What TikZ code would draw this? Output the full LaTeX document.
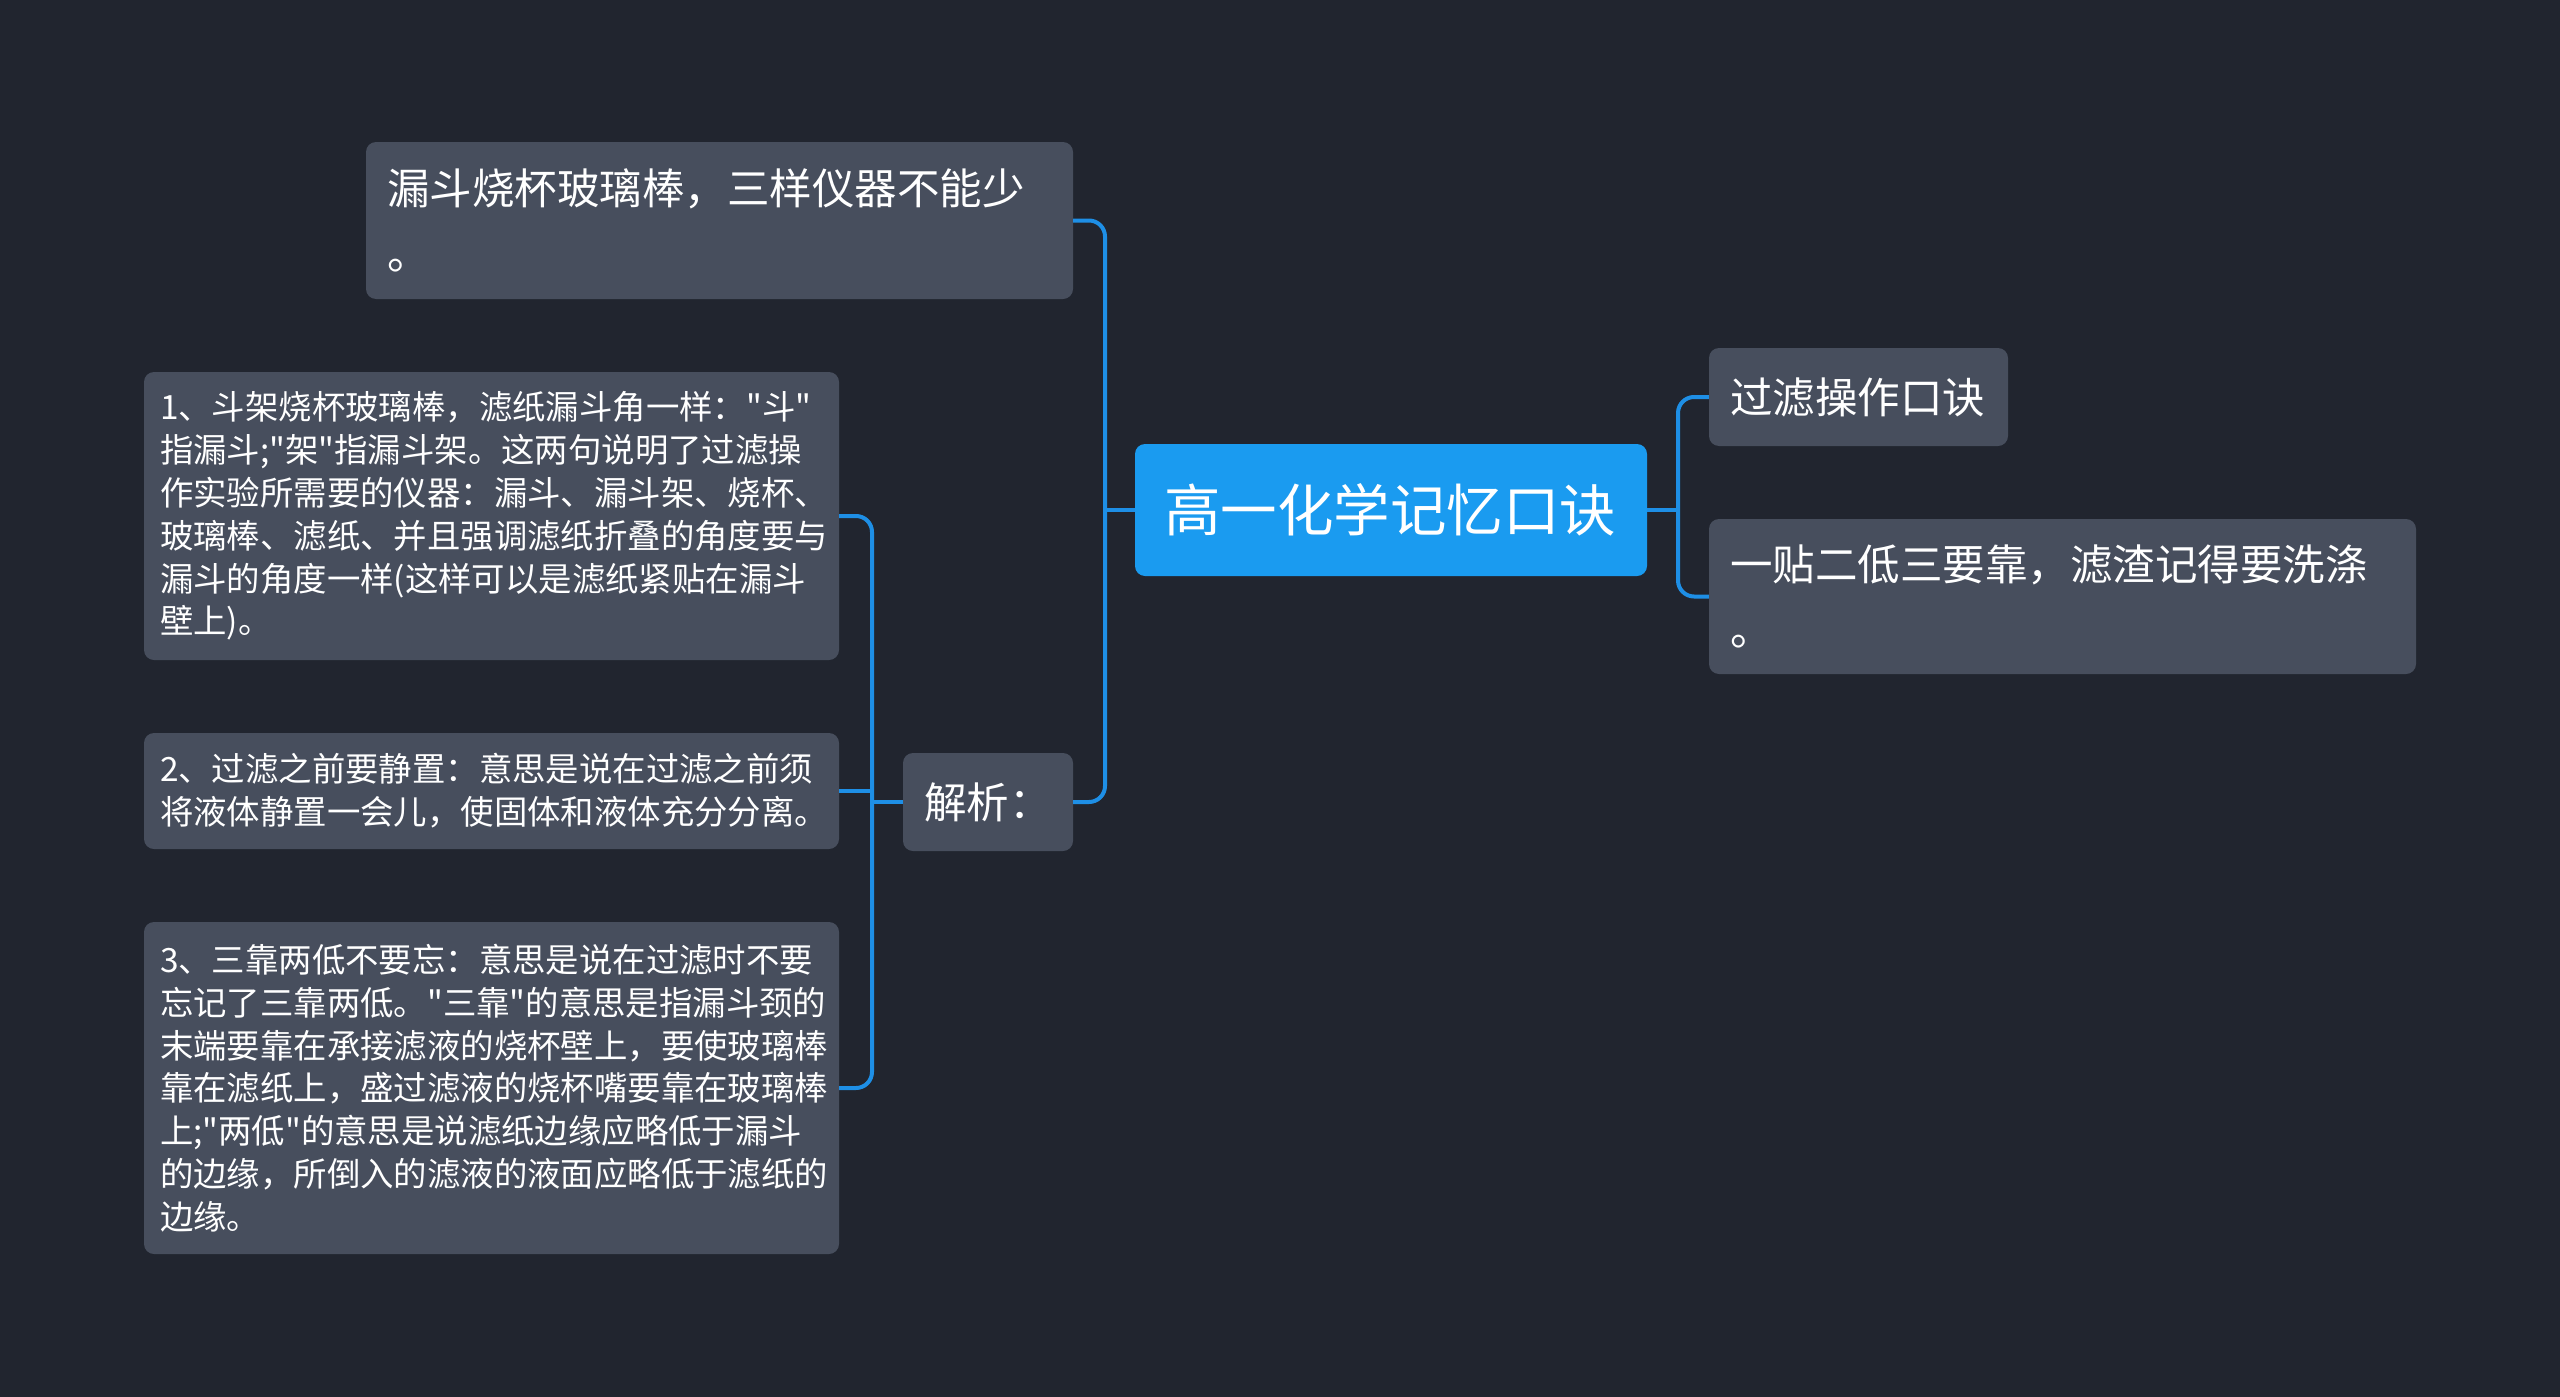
\documentclass[tikz,border=0pt]{standalone}
\usepackage{fontspec}
\setmainfont{Noto Sans CJK SC}[Ligatures=TeXOff]
\definecolor{bgc}{HTML}{21252F}
\definecolor{boxc}{HTML}{474E5D}
\definecolor{rootc}{HTML}{1A9BF0}
\definecolor{linec}{HTML}{1E8FE6}
\tikzset{
  box/.style={fill=boxc, rounded corners=10pt, text=white, align=left, inner ysep=0pt, anchor=center},
  smalltxt/.style={font=\fontsize{33.4}{42.8}\selectfont, inner xsep=16pt},
  midtxt/.style={font=\fontsize{42.5}{65}\selectfont, inner xsep=21pt},
  conn/.style={draw=linec, line width=4pt, rounded corners=16pt},
}
\begin{document}
\begin{tikzpicture}[x=1pt,y=-1pt]
\fill[bgc] (0,0) rectangle (2560,1397);
\useasboundingbox (0,0) rectangle (2560,1397);

\node[box, fill=rootc, font=\fontsize{56.5}{70}\selectfont, inner xsep=29pt, text width=454pt, minimum height=132pt] (root) at (1391,510) {高一化学记忆口诀};

\node[box, midtxt, text width=257pt, minimum height=98pt] (A) at (1858.5,397) {过滤操作口诀};
\node[box, midtxt, text width=665pt, minimum height=155pt] (B) at (2062.5,596.5) {一贴二低三要靠，滤渣记得要洗涤\\。};

\node[box, midtxt, text width=665pt, minimum height=157pt] (C) at (719.5,220.5) {漏斗烧杯玻璃棒，三样仪器不能少\\。};
\node[box, midtxt, text width=128pt, minimum height=98pt] (D) at (988,802) {解析：};

\node[box, smalltxt, text width=663pt, minimum height=288pt] (E1) at (491.5,516) {1、斗架烧杯玻璃棒，滤纸漏斗角一样："斗"\\指漏斗;"架"指漏斗架。这两句说明了过滤操\\作实验所需要的仪器：漏斗、漏斗架、烧杯、\\玻璃棒、滤纸、并且强调滤纸折叠的角度要与\\漏斗的角度一样(这样可以是滤纸紧贴在漏斗\\壁上)。};
\node[box, smalltxt, text width=663pt, minimum height=116pt] (E2) at (491.5,791) {2、过滤之前要静置：意思是说在过滤之前须\\将液体静置一会儿，使固体和液体充分分离。};
\node[box, smalltxt, text width=663pt, minimum height=332pt] (E3) at (491.5,1088) {3、三靠两低不要忘：意思是说在过滤时不要\\忘记了三靠两低。"三靠"的意思是指漏斗颈的\\末端要靠在承接滤液的烧杯壁上，要使玻璃棒\\靠在滤纸上，盛过滤液的烧杯嘴要靠在玻璃棒\\上;"两低"的意思是说滤纸边缘应略低于漏斗\\的边缘，所倒入的滤液的液面应略低于滤纸的\\边缘。};

\coordinate (sl) at (1105,0);
\coordinate (sr) at (1678,0);
\coordinate (sd) at (872,0);

\draw[conn] (root.west) -- (sl |- root.west);
\draw[conn] (C.east) -- (sl |- C.east) -- (sl |- D.east) -- (D.east);
\draw[conn] (root.east) -- (sr |- root.east);
\draw[conn] (A.west) -- (sr |- A.west) -- (sr |- B.west) -- (B.west);
\draw[conn] (D.west) -- (sd |- D.west);
\draw[conn] (E1.east) -- (sd |- E1.east) -- (sd |- E3.east) -- (E3.east);
\draw[conn] (E2.east) -- (sd |- E2.east);
\end{tikzpicture}
\end{document}
